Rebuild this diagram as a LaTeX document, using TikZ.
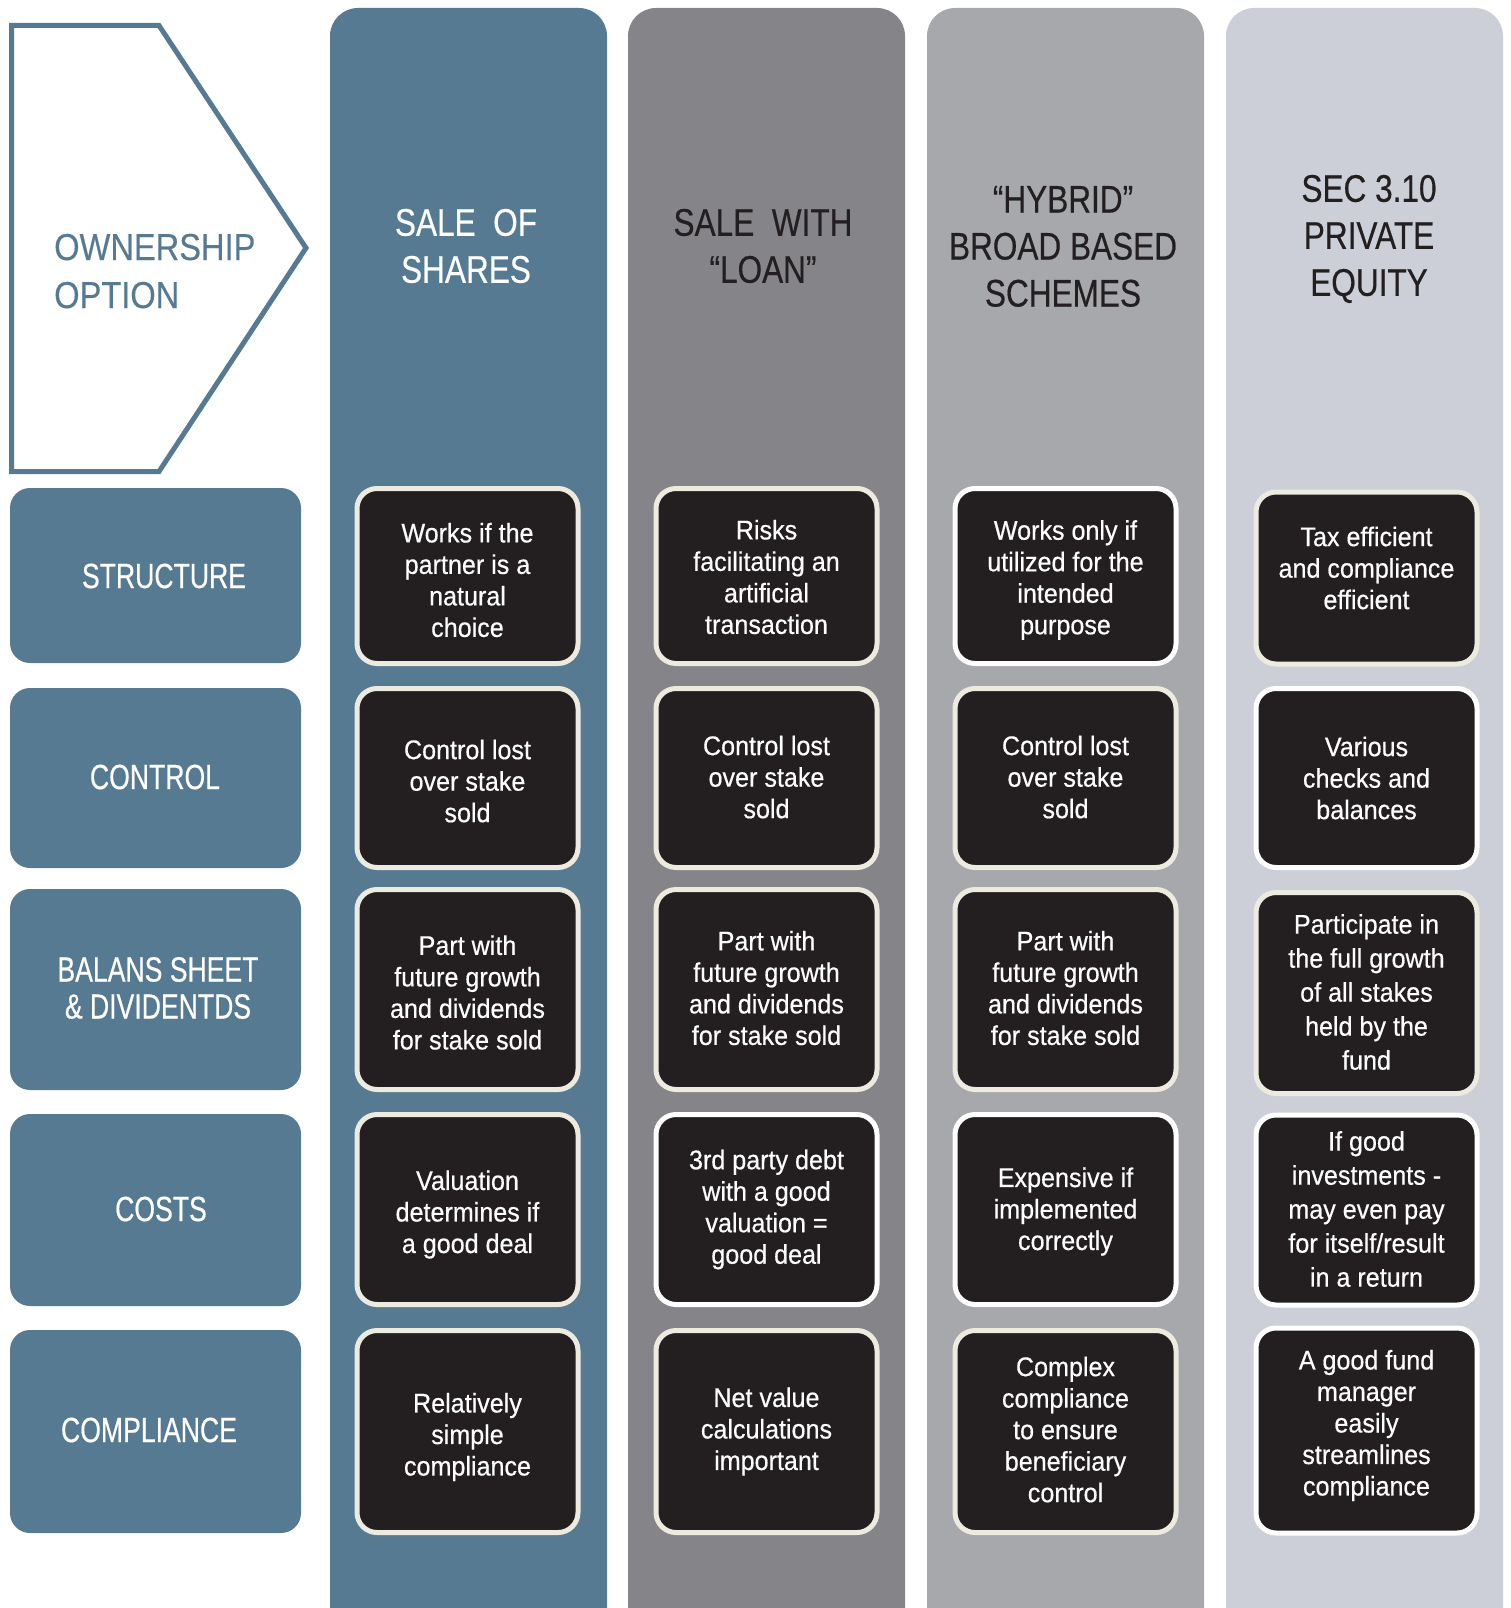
\documentclass[tikz,border=0pt]{standalone}
\usepackage{fontspec}
\setmainfont{Liberation Sans}
\newfontfamily\capf[FakeStretch=0.82,FakeBold=0.4]{Liberation Sans}
\newfontfamily\labf[FakeStretch=0.76,FakeBold=0.4]{Liberation Sans}
\newfontfamily\ownf[FakeStretch=0.87,FakeBold=0.3]{Liberation Sans}
\newfontfamily\boxf[FakeStretch=0.93,FakeBold=0.5]{Liberation Sans}
\definecolor{blueA}{HTML}{577A93}
\definecolor{grayB}{HTML}{858589}
\definecolor{grayC}{HTML}{A7A8AC}
\definecolor{grayD}{HTML}{CCCFD7}
\definecolor{darkbox}{HTML}{231F20}
\definecolor{cream}{HTML}{EDEAE0}
\tikzset{
  colbg/.style={rounded corners=28pt},
  cell/.style={draw=cream, line width=5pt, fill=darkbox, rounded corners=20pt,
    minimum width=221pt, inner sep=0pt},
  wcell/.style={cell, draw=white},
  ctext/.style={text=white, align=center, inner sep=0pt,
    font=\boxf\fontsize{27}{31.5}\selectfont},
  ctextw/.style={ctext, font=\boxf\fontsize{27}{34}\selectfont},
  labbox/.style={fill=blueA, rounded corners=20pt, minimum width=291pt, inner sep=0pt},
  labtext/.style={text=white, align=center, inner sep=0pt, font=\labf\fontsize{35}{37}\selectfont},
  head/.style={align=center, inner sep=0pt, font=\capf\fontsize{38.5}{47}\selectfont},
  owntext/.style={anchor=base west, inner sep=0pt, text=blueA, font=\ownf\fontsize{37.5}{48}\selectfont},
}
\begin{document}
\begin{tikzpicture}[x=1pt,y=-1pt]
\clip (0,0) rectangle (1510,1608);
\fill[white] (0,0) rectangle (1510,1608);
% columns
\fill[blueA, colbg] (330,8) rectangle (607,1650);
\fill[grayB, colbg] (628,8) rectangle (905,1650);
\fill[grayC, colbg] (927,8) rectangle (1204,1650);
\fill[grayD, colbg] (1226,8) rectangle (1503,1650);
% pentagon
\draw[blueA, line width=5pt, line join=miter] (11.5,25.5) -- (159,25.5) -- (306,248) -- (159,471.5) -- (11.5,471.5) -- cycle;
\node[owntext] (own1) at (54,260) {OWNERSHIP};
\node[owntext] (own2) at (54,308) {OPTION};
% headers
\node[head, text=white] (h1) at (466,246) {SALE\ \ OF\\SHARES};
\node[head, text=darkbox] (h2) at (763,246) {SALE\ \ WITH\\“LOAN”};
\node[head, text=darkbox] (h3) at (1063,246.5) {“HYBRID”\\BROAD BASED\\SCHEMES};
\node[head, text=darkbox] (h4) at (1369,239) {SEC 3.10\\PRIVATE\\EQUITY};
% row labels
\node[labbox, minimum height=175pt] (l1) at (155.5,575.5) {};
\node[labbox, minimum height=180pt] (l2) at (155.5,778) {};
\node[labbox, minimum height=201pt] (l3) at (155.5,989.5) {};
\node[labbox, minimum height=192pt] (l4) at (155.5,1210) {};
\node[labbox, minimum height=203pt] (l5) at (155.5,1431.5) {};
\node[labtext] (t1) at (164,576) {STRUCTURE};
\node[labtext] (t2) at (155,777) {CONTROL};
\node[labtext] (t3) at (158,988) {BALANS SHEET\\\& DIVIDENTDS};
\node[labtext] (t4) at (161,1209) {COSTS};
\node[labtext] (t5) at (149,1430) {COMPLIANCE};
% boxes
\node[cell, minimum height=175pt] (a1) at (467.5,576) {};
\node[cell, minimum height=179pt] (a2) at (467.5,778) {};
\node[cell, minimum height=200pt] (a3) at (467.5,989.5) {};
\node[cell, minimum height=190pt] (a4) at (467.5,1209.5) {};
\node[cell, minimum height=202pt] (a5) at (467.5,1431.5) {};
\node[cell, minimum height=175pt] (b1) at (766.5,576) {};
\node[cell, minimum height=179pt] (b2) at (766.5,778) {};
\node[cell, minimum height=200pt] (b3) at (766.5,989.5) {};
\node[wcell, minimum height=190pt] (b4) at (766.5,1209.5) {};
\node[cell, minimum height=202pt] (b5) at (766.5,1431.5) {};
\node[wcell, minimum height=175pt] (c1) at (1065.5,576) {};
\node[cell, minimum height=179pt] (c2) at (1065.5,778) {};
\node[cell, minimum height=200pt] (c3) at (1065.5,989.5) {};
\node[wcell, minimum height=190pt] (c4) at (1065.5,1209.5) {};
\node[cell, minimum height=202pt] (c5) at (1065.5,1431.5) {};
\node[cell, minimum height=172pt] (d1) at (1366.5,578) {};
\node[wcell, minimum height=179pt] (d2) at (1366.5,778) {};
\node[cell, minimum height=201pt] (d3) at (1366.5,993) {};
\node[wcell, minimum height=190pt] (d4) at (1366.5,1210) {};
\node[wcell, minimum height=205pt] (d5) at (1366.5,1430.5) {};
% box texts
\node[ctext, yshift=-4pt] (a1t) at (a1) {Works if the\\partner is a\\natural\\choice};
\node[ctext, yshift=-3pt] (a2t) at (a2) {Control lost\\over stake\\sold};
\node[ctext, yshift=-3pt] (a3t) at (a3) {Part with\\future growth\\and dividends\\for stake sold};
\node[ctext, yshift=-5pt] (a4t) at (a4) {Valuation\\determines if\\a good deal};
\node[ctext, yshift=-5.5pt] (a5t) at (a5) {Relatively\\simple\\compliance};
\node[ctext, yshift=-1pt] (b1t) at (b1) {Risks\\facilitating an\\artificial\\transaction};
\node[ctext, yshift=1pt] (b2t) at (b2) {Control lost\\over stake\\sold};
\node[ctext, yshift=1.5pt] (b3t) at (b3) {Part with\\future growth\\and dividends\\for stake sold};
\node[ctext] (b4t) at (b4) {3rd party debt\\with a good\\valuation =\\good deal};
\node[ctext] (b5t) at (b5) {Net value\\calculations\\important};
\node[ctext, yshift=-4pt] (c1t) at (c1) {Works only if\\utilized for the\\intended\\purpose};
\node[ctext, yshift=1pt] (c2t) at (c2) {Control lost\\over stake\\sold};
\node[ctext, yshift=1.5pt] (c3t) at (c3) {Part with\\future growth\\and dividends\\for stake sold};
\node[ctext, yshift=-2pt] (c4t) at (c4) {Expensive if\\implemented\\correctly};
\node[ctext, yshift=2pt] (c5t) at (c5) {Complex\\compliance\\to ensure\\beneficiary\\control};
\node[ctext, yshift=10pt] (d1t) at (d1) {Tax efficient\\and compliance\\efficient};
\node[ctext] (d2t) at (d2) {Various\\checks and\\balances};
\node[ctextw, yshift=1pt] (d3t) at (d3) {Participate in\\the full growth\\of all stakes\\held by the\\fund};
\node[ctextw, yshift=1pt] (d4t) at (d4) {If good\\investments -\\may even pay\\for itself/result\\in a return};
\node[ctext, yshift=5pt] (d5t) at (d5) {A good fund\\manager\\easily\\streamlines\\compliance};
\end{tikzpicture}
\end{document}
